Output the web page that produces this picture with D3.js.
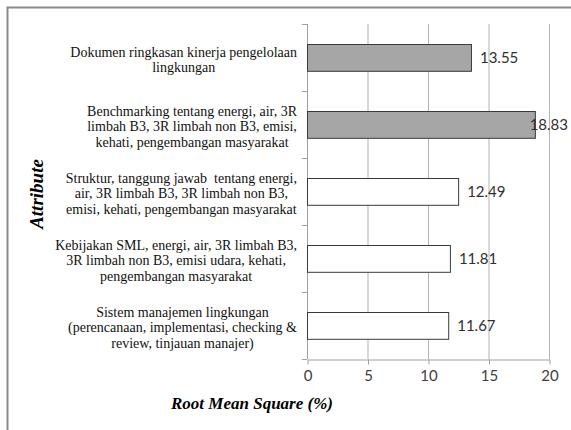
<!DOCTYPE html>
<html>
<head>
<meta charset="utf-8">
<script src="https://cdn.jsdelivr.net/npm/d3@7"></script>
<style>
  body { margin: 0; background: #fff; }
  svg { display: block; }
</style>
</head>
<body>
<div id="chart"></div>
<script>
// categories from top to bottom, each split into its printed lines
const categories = [
    ['Dokumen ringkasan kinerja pengelolaan', 'lingkungan'],
    ['Benchmarking tentang energi, air, 3R', 'limbah B3, 3R limbah non B3, emisi,', 'kehati, pengembangan masyarakat'],
    ['Struktur, tanggung jawab  tentang energi,', 'air, 3R limbah B3, 3R limbah non B3,', 'emisi, kehati, pengembangan masyarakat'],
    ['Kebijakan SML, energi, air, 3R limbah B3,', '3R limbah non B3, emisi udara, kehati,', 'pengembangan masyarakat'],
    ['Sistem manajemen lingkungan', '(perencanaan, implementasi, checking &', 'review, tinjauan manajer)']
];
const values = [13.55, 18.83, 12.49, 11.81, 11.67];
const highlighted = [true, true, false, false, false];
const xTicks = [0, 5, 10, 15, 20];

const width = 571, height = 430;
const margin = {top: 24, right: 22, bottom: 71, left: 307};

const svg = d3.select('#chart').append('svg')
    .attr('width', width)
    .attr('height', height);

// outer frame (left and top edges only are visible)
svg.append('path')
    .attr('d', 'M7.5,' + height + 'V7.5H' + width)
    .attr('fill', 'none')
    .attr('stroke', '#8a8a8a')
    .attr('stroke-width', 2);

const x = d3.scaleLinear()
    .domain([0, 20])
    .range([margin.left, width - margin.right]);

const y = d3.scaleBand()
    .domain(d3.range(categories.length))
    .range([margin.top, height - margin.bottom])
    .paddingInner(0.6)
    .paddingOuter(0.3);

// vertical gridlines
svg.append('g')
    .selectAll('line')
    .data(xTicks.slice(1))
    .enter().append('line')
    .attr('x1', d => x(d) + 0.5)
    .attr('x2', d => x(d) + 0.5)
    .attr('y1', margin.top)
    .attr('y2', height - margin.bottom)
    .attr('stroke', '#b3b3b3');

// bottom axis
const xAxis = svg.append('g')
    .attr('transform', 'translate(0.5,' + (height - margin.bottom + 0.5) + ')')
    .call(d3.axisBottom(x).tickValues(xTicks).tickSize(5).tickSizeOuter(0).tickPadding(6));
xAxis.select('.domain').attr('stroke', '#a0a0a0');
xAxis.selectAll('.tick line').attr('stroke', '#a0a0a0');
xAxis.selectAll('.tick text')
    .attr('fill', '#404040')
    .style('font-family', 'Lato, "Open Sans", sans-serif')
    .style('font-size', '15px');

// left axis line with category separators
const bandEdges = d3.range(categories.length + 1).map(i => margin.top + i * y.step());
svg.append('line')
    .attr('x1', margin.left + 0.5)
    .attr('x2', margin.left + 0.5)
    .attr('y1', margin.top)
    .attr('y2', height - margin.bottom)
    .attr('stroke', '#a0a0a0');
svg.append('g')
    .selectAll('line')
    .data(bandEdges)
    .enter().append('line')
    .attr('x1', margin.left - 5)
    .attr('x2', margin.left)
    .attr('y1', d => Math.round(d) + 0.5)
    .attr('y2', d => Math.round(d) + 0.5)
    .attr('stroke', '#a0a0a0');

// bars
svg.append('g')
    .selectAll('rect')
    .data(values)
    .enter().append('rect')
    .attr('x', x(0) + 0.5)
    .attr('y', (d, i) => Math.round(y(i)) + 0.5)
    .attr('width', d => x(d) - x(0))
    .attr('height', y.bandwidth())
    .attr('fill', (d, i) => highlighted[i] ? '#a6a6a6' : '#ffffff')
    .attr('stroke', '#3a3a3a')
    .attr('stroke-width', 1);

// value labels, pushed back inside the plot when they would overflow
svg.append('g')
    .selectAll('text')
    .data(values)
    .enter().append('text')
    .attr('y', (d, i) => y(i) + y.bandwidth() / 2)
    .attr('dy', '0.35em')
    .attr('fill', '#303030')
    .style('font-family', 'Lato, "Open Sans", sans-serif')
    .style('font-size', '15px')
    .text(d => d.toFixed(2))
    .attr('x', function(d) {
        const w = this.getComputedTextLength();
        return Math.min(x(d) + 9, width - 3 - w);
    });

// category labels, lines centred inside a right-aligned block
const lineHeight = 15.5;
const labels = svg.append('g')
    .selectAll('text')
    .data(categories)
    .enter().append('text')
    .attr('fill', '#111')
    .style('font-family', '"Liberation Serif", "Times New Roman", serif')
    .style('font-size', '14px')
    .style('white-space', 'pre')
    .attr('text-anchor', 'middle');
labels.each(function(lines, i) {
    const t = d3.select(this);
    const cy = y(i) + y.bandwidth() / 2 + 2;
    const top = cy - (lines.length - 1) * lineHeight / 2;
    lines.forEach((line, j) => {
        t.append('tspan').attr('y', top + j * lineHeight).attr('dy', '0.35em').text(line);
    });
    const w = d3.max(t.selectAll('tspan').nodes(), n => n.getComputedTextLength());
    t.selectAll('tspan').attr('x', 297 - w / 2);
});

// axis titles
svg.append('text')
    .attr('transform', 'translate(36,194) rotate(-90)')
    .attr('text-anchor', 'middle')
    .attr('dy', '0.35em')
    .style('font-family', '"Liberation Serif", "Times New Roman", serif')
    .style('font-size', '19px')
    .style('font-weight', 'bold')
    .style('font-style', 'italic')
    .text('Attribute');

svg.append('text')
    .attr('x', 252)
    .attr('y', 403)
    .attr('text-anchor', 'middle')
    .attr('dy', '0.35em')
    .style('font-family', '"Liberation Serif", "Times New Roman", serif')
    .style('font-size', '17px')
    .style('font-weight', 'bold')
    .style('font-style', 'italic')
    .text('Root Mean Square (%)');
</script>
</body>
</html>
